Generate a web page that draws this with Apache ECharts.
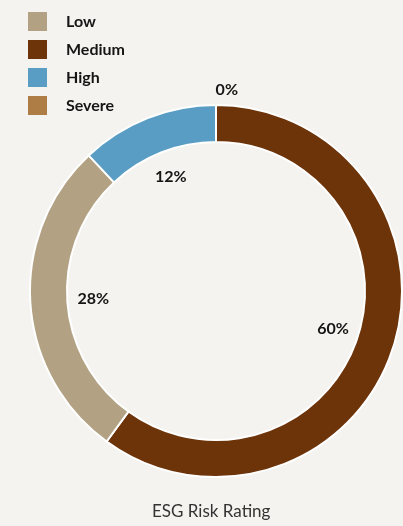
<!DOCTYPE html>
<html>
<head>
<meta charset="utf-8">
<script src="https://cdn.jsdelivr.net/npm/echarts@6/dist/echarts.min.js"></script>
<style>
  html, body { margin: 0; padding: 0; background: #f5f3ef; }
  #chart { width: 403px; height: 526px; }
</style>
</head>
<body>
<div id="chart"></div>
<script>
// legend order
var categories = ['Low', 'Medium', 'High', 'Severe'];
var shares = [28, 60, 12, 0];
var colors = ['#b2a283', '#6d3309', '#599dc4', '#ae7d45'];
// order round the ring, clockwise from the top
var ringOrder = ['Severe', 'Medium', 'Low', 'High'];
var chartTitle = 'ESG Risk Rating';

var ringData = [];
var labelData = [];
for (var i = 0; i < ringOrder.length; i++) {
    var k = categories.indexOf(ringOrder[i]);
    var zero = shares[k] === 0;
    ringData.push({
        name: categories[k],
        value: shares[k],
        itemStyle: { color: colors[k] },
        label: { show: zero }
    });
    labelData.push({
        name: categories[k],
        value: shares[k],
        label: { show: !zero }
    });
}

var myChart = echarts.init(document.getElementById('chart'));
var option = {
    backgroundColor: '#f5f3ef',
    animation: false,
    color: colors,
    title: {
        text: chartTitle,
        left: 147,
        top: 498,
        textStyle: {
            fontFamily: 'Lato',
            fontWeight: 'normal',
            fontSize: 17,
            color: '#333333'
        }
    },
    legend: {
        orient: 'vertical',
        left: 28,
        top: 12,
        padding: 0,
        itemWidth: 19,
        itemHeight: 19,
        itemGap: 9,
        icon: 'rect',
        data: categories,
        itemStyle: { borderWidth: 0 },
        textStyle: {
            fontFamily: 'Lato',
            fontWeight: 'bold',
            fontSize: 16,
            color: '#151515',
            padding: [0, 0, 0, 14]
        }
    },
    series: [
        {
            type: 'pie',
            center: [216, 291],
            radius: [149, 186],
            startAngle: 90,
            clockwise: true,
            avoidLabelOverlap: false,
            silent: true,
            itemStyle: {
                borderColor: '#ffffff',
                borderWidth: 2
            },
            label: {
                position: 'outside',
                formatter: '{c}%',
                fontFamily: 'Lato',
                fontWeight: 'bold',
                fontSize: 16,
                color: '#151515',
                distanceToLabelLine: -22
            },
            labelLine: { show: false, length: 15, length2: 0 },
            data: ringData
        },
        {
            // invisible ring, only to carry the inner labels
            type: 'pie',
            center: [216, 291],
            radius: [96, 144],
            startAngle: 90,
            clockwise: true,
            silent: true,
            itemStyle: { color: 'rgba(0,0,0,0)' },
            label: {
                position: 'inside',
                formatter: '{c}%',
                fontFamily: 'Lato',
                fontWeight: 'bold',
                fontSize: 16,
                color: '#151515'
            },
            labelLine: { show: false },
            data: labelData
        }
    ]
};
myChart.setOption(option);
</script>
</body>
</html>
